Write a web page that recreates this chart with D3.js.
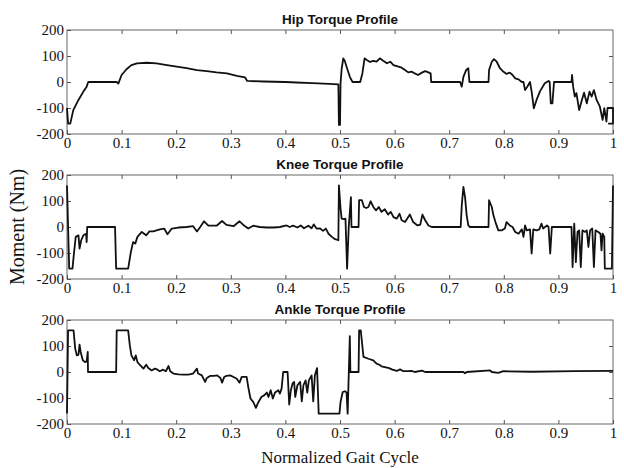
<!DOCTYPE html>
<html>
<head>
<meta charset="utf-8">
<script src="https://cdn.jsdelivr.net/npm/d3@7"></script>
<style>
  body { margin: 0; background: #fff; }
  svg { display: block; }
</style>
</head>
<body>
<div id="vis-container"></div>
<script>
const width = 624,
      height = 468,
      margin = { left: 67, right: 11 };

const panelHeight = 104;
const panelTops = [30, 175, 320];

// tick values / labels shared by the three panels
const xTickValues = [0, 0.1, 0.2, 0.3, 0.4, 0.5, 0.6, 0.7, 0.8, 0.9, 1];
const xTickLabels = ["0", "0.1", "0.2", "0.3", "0.4", "0.5", "0.6", "0.7", "0.8", "0.9", "1"];
const yTickValues = [-200, -100, 0, 100, 200];
const yTickLabels = ["-200", "-100", "0", "100", "200"];

const panelTitles = ["Hip Torque Profile", "Knee Torque Profile", "Ankle Torque Profile"];

// [normalized gait cycle, moment (Nm)]
const hipTorque = [
  [0,-100],[0.002,-160],[0.006,-160],[0.0115,-108],[0.021,-69],[0.030,-37],[0.036,-18],[0.038,-5],[0.039,0],
  [0.091,0],[0.094,-6],[0.100,27],[0.109,49],[0.118,65],[0.128,72],[0.146,74],[0.164,72],[0.183,65],
  [0.201,59],[0.219,53],[0.238,46],[0.256,42],[0.274,37],[0.293,33],[0.311,24],[0.326,18],[0.330,4],
  [0.36,2],[0.40,0],[0.42,-2],[0.45,-4],[0.48,-7],[0.497,-9],[0.498,-165],[0.500,-165],[0.501,-5],
  [0.503,50],[0.506,91],[0.509,80],[0.512,59],[0.518,20],[0.523,0],[0.537,0],[0.541,33],[0.545,91],
  [0.549,85],[0.555,77],[0.561,81],[0.567,78],[0.573,91],[0.579,82],[0.586,72],[0.592,78],[0.598,65],
  [0.607,59],[0.613,55],[0.619,46],[0.625,37],[0.631,40],[0.637,33],[0.643,27],[0.650,36],[0.656,42],
  [0.662,37],[0.666,33],[0.667,0],[0.720,0],[0.723,-18],[0.726,20],[0.731,46],[0.735,53],[0.737,0],
  [0.772,0],[0.773,46],[0.778,78],[0.782,88],[0.787,78],[0.793,53],[0.799,40],[0.805,31],[0.811,36],
  [0.816,27],[0.821,14],[0.827,10],[0.833,0],[0.836,0],[0.839,-31],[0.843,-18],[0.848,0],[0.851,-37],
  [0.855,-101],[0.860,-69],[0.866,-37],[0.875,-5],[0.882,4],[0.884,0],[0.886,-82],[0.889,-82],[0.892,0],
  [0.924,0],[0.925,27],[0.927,-18],[0.930,-56],[0.933,-43],[0.938,-108],[0.943,-69],[0.947,-41],
  [0.952,-82],[0.957,-37],[0.961,-56],[0.965,-31],[0.970,-69],[0.976,-95],[0.981,-146],[0.984,-101],
  [0.988,-152],[0.990,-100],[1.0,-100],[1.0,-160],[0.991,-160]
];

const kneeTorque = [
  [0,160],[0.004,-160],[0.010,-160],[0.013,-96],[0.016,-38],[0.021,-32],[0.023,-83],[0.026,-51],
  [0.030,-32],[0.035,-26],[0.036,-58],[0.037,0],[0.088,0],[0.090,-160],[0.112,-160],[0.117,-96],
  [0.121,-58],[0.125,-64],[0.129,-38],[0.137,-19],[0.145,-32],[0.151,-17],[0.158,-17],[0.164,-13],
  [0.170,-9],[0.178,-6],[0.184,-28],[0.192,-6],[0.204,-2],[0.219,0],[0.231,3],[0.238,-17],[0.244,0],
  [0.251,22],[0.259,5],[0.274,5],[0.284,23],[0.292,8],[0.305,3],[0.316,22],[0.323,8],[0.332,-6],
  [0.341,5],[0.353,0],[0.366,-2],[0.378,-2],[0.390,0],[0.402,6],[0.408,0],[0.414,5],[0.422,-2],
  [0.428,6],[0.434,-5],[0.442,5],[0.448,-5],[0.452,10],[0.457,-6],[0.463,-5],[0.469,-15],[0.474,-6],
  [0.479,-26],[0.485,-38],[0.491,-47],[0.497,-51],[0.498,160],[0.501,71],[0.503,32],[0.507,30],
  [0.510,32],[0.513,-160],[0.516,0],[0.520,115],[0.521,0],[0.534,0],[0.535,103],[0.540,103],[0.544,77],
  [0.548,73],[0.552,77],[0.556,99],[0.561,77],[0.566,64],[0.571,77],[0.576,58],[0.582,68],[0.588,48],
  [0.593,58],[0.598,38],[0.604,32],[0.609,51],[0.613,26],[0.619,19],[0.628,48],[0.634,19],[0.642,6],
  [0.647,9],[0.651,48],[0.656,26],[0.662,6],[0.668,0],[0.721,0],[0.723,83],[0.726,154],[0.729,115],
  [0.732,45],[0.735,6],[0.738,0],[0.772,0],[0.773,103],[0.778,77],[0.781,45],[0.785,17],[0.790,-13],
  [0.796,-13],[0.802,-6],[0.805,19],[0.811,6],[0.816,0],[0.821,-19],[0.827,-26],[0.833,-9],[0.836,-38],
  [0.839,6],[0.842,-13],[0.848,-9],[0.851,-102],[0.854,-9],[0.860,-13],[0.865,-9],[0.869,13],[0.872,-6],
  [0.879,6],[0.882,0],[0.885,-102],[0.888,0],[0.924,0],[0.926,-154],[0.929,13],[0.932,-135],[0.935,-19],
  [0.938,-13],[0.941,-154],[0.944,-13],[0.949,-19],[0.952,-13],[0.955,-77],[0.958,-13],[0.962,-6],
  [0.965,-154],[0.968,-13],[0.973,-19],[0.977,-26],[0.979,-90],[0.981,-26],[0.984,-38],[0.985,-160],
  [0.998,-160],[1.0,160]
];

const ankleTorque = [
  [0,-160],[0.002,160],[0.012,160],[0.015,90],[0.018,64],[0.021,67],[0.023,105],[0.025,77],[0.029,45],
  [0.033,38],[0.036,41],[0.038,77],[0.0385,0],[0.090,0],[0.091,160],[0.112,160],[0.115,103],[0.118,64],
  [0.123,45],[0.126,64],[0.129,38],[0.134,26],[0.140,13],[0.145,28],[0.149,15],[0.155,6],[0.161,13],
  [0.165,10],[0.170,3],[0.176,9],[0.181,3],[0.186,23],[0.189,3],[0.195,-6],[0.204,-9],[0.213,-10],
  [0.222,-10],[0.231,-6],[0.238,13],[0.240,-6],[0.247,-13],[0.253,-38],[0.256,-23],[0.262,-15],
  [0.269,-15],[0.275,-13],[0.281,-23],[0.284,-41],[0.288,-19],[0.292,-15],[0.299,-13],[0.305,-19],
  [0.311,-26],[0.316,-41],[0.320,-19],[0.326,-19],[0.329,-19],[0.332,-58],[0.336,-102],[0.341,-115],
  [0.346,-138],[0.350,-118],[0.356,-96],[0.361,-90],[0.366,-79],[0.369,-96],[0.373,-70],[0.377,-102],
  [0.381,-79],[0.387,-70],[0.390,-83],[0.393,-64],[0.396,0],[0.404,0],[0.407,-125],[0.410,-70],
  [0.413,-45],[0.416,-38],[0.418,-96],[0.422,-51],[0.427,-38],[0.430,-113],[0.433,-51],[0.437,-32],
  [0.440,-79],[0.443,-32],[0.448,-13],[0.451,-113],[0.454,-13],[0.458,15],[0.461,-160],[0.499,-160],
  [0.501,-115],[0.505,-77],[0.509,-74],[0.512,-79],[0.514,-160],[0.518,138],[0.519,0],[0.534,0],
  [0.535,160],[0.538,160],[0.543,58],[0.552,51],[0.561,45],[0.567,32],[0.572,28],[0.576,22],[0.582,19],
  [0.590,15],[0.596,9],[0.604,4],[0.610,10],[0.616,3],[0.625,3],[0.631,4],[0.637,0],[0.650,5],
  [0.656,0],[0.726,0],[0.729,-5],[0.732,0],[0.775,6],[0.778,0],[0.790,-3],[0.799,3],[0.85,1],
  [0.93,3],[1.0,4]
];

const panelData = [hipTorque, kneeTorque, ankleTorque];

const serif = "'Liberation Serif', 'Times New Roman', serif";

var svg = d3.select("#vis-container").append("svg")
    .attr("width", width)
    .attr("height", height);

svg.append("rect").attr("width", width).attr("height", height).attr("fill", "#fff");

var x = d3.scaleLinear().domain([0, 1]).range([margin.left, width - margin.right]);

function styleAxis(g) {
    g.attr("font-family", null).attr("font-size", null);
    g.select(".domain").remove();
    g.selectAll("line").attr("stroke", "#555");
    g.selectAll("text")
        .style("font-family", serif)
        .style("font-size", "15px")
        .attr("fill", "#111");
}

panelData.forEach(function(data, i) {
    var top = panelTops[i];
    var y = d3.scaleLinear().domain([-200, 200]).range([top + panelHeight, top]);

    // box
    svg.append("rect")
        .attr("x", x(0)).attr("y", top)
        .attr("width", x(1) - x(0)).attr("height", panelHeight)
        .attr("fill", "none").attr("stroke", "#666").attr("stroke-width", 1);

    // bottom ticks with labels, top/right ticks without (inward, matlab style)
    svg.append("g")
        .attr("transform", `translate(0 ${top + panelHeight})`)
        .call(d3.axisBottom(x).tickValues(xTickValues).tickSizeInner(-4).tickSizeOuter(0).tickPadding(3)
            .tickFormat(function(d, j) { return xTickLabels[j]; }))
        .call(styleAxis);
    svg.append("g")
        .attr("transform", `translate(0 ${top})`)
        .call(d3.axisTop(x).tickValues(xTickValues.slice(1, -1)).tickSizeInner(-4).tickSizeOuter(0).tickFormat(""))
        .call(styleAxis);
    svg.append("g")
        .attr("transform", `translate(${x(0)} 0)`)
        .call(d3.axisLeft(y).tickValues(yTickValues).tickSizeInner(-4).tickSizeOuter(0).tickPadding(3)
            .tickFormat(function(d, j) { return yTickLabels[j]; }))
        .call(styleAxis);
    svg.append("g")
        .attr("transform", `translate(${x(1)} 0)`)
        .call(d3.axisRight(y).tickValues(yTickValues.slice(1, -1)).tickSizeInner(-4).tickSizeOuter(0).tickFormat(""))
        .call(styleAxis);

    // title
    svg.append("text")
        .attr("x", (x(0) + x(1)) / 2).attr("y", top - 6)
        .attr("text-anchor", "middle")
        .style("font-family", "'Liberation Sans', Arial, sans-serif")
        .style("font-weight", "bold").style("font-size", "13.5px")
        .attr("fill", "#111")
        .text(panelTitles[i]);

    // torque curve
    var line = d3.line()
        .x(function(d) { return x(d[0]); })
        .y(function(d) { return y(d[1]); });
    svg.append("path")
        .datum(data)
        .attr("d", line)
        .attr("fill", "none")
        .attr("stroke", "#111")
        .attr("stroke-width", 1.8)
        .attr("stroke-linejoin", "round");
});

// axis titles
svg.append("text")
    .attr("transform", "translate(24 227) rotate(-90)")
    .attr("text-anchor", "middle")
    .style("font-family", serif).style("font-size", "20px")
    .attr("fill", "#111")
    .text("Moment (Nm)");

svg.append("text")
    .attr("x", (x(0) + x(1)) / 2).attr("y", 463)
    .attr("text-anchor", "middle")
    .style("font-family", serif).style("font-size", "17px")
    .attr("fill", "#111")
    .text("Normalized Gait Cycle");
</script>
</body>
</html>
